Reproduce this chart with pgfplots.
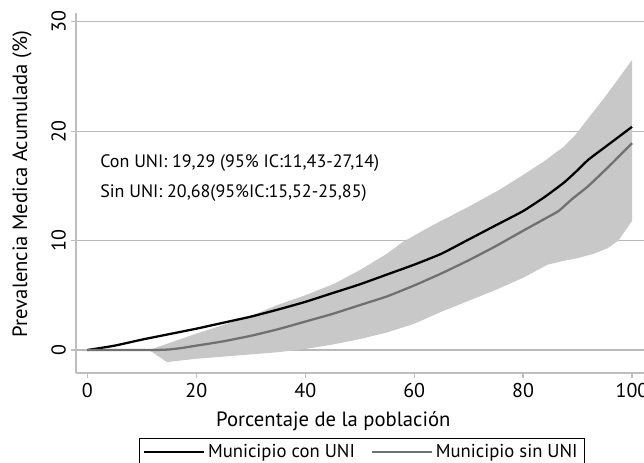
\documentclass[border=0pt]{standalone}
\usepackage{fontspec}
\setmainfont{PT Sans}
\usepackage{pgfplots}
\pgfplotsset{compat=1.18}
\usepgfplotslibrary{fillbetween}

\definecolor{bandgray}{RGB}{200,200,200}
\definecolor{linegray}{RGB}{112,112,112}
\definecolor{gridgray}{RGB}{185,185,185}
\definecolor{spinegray}{RGB}{190,190,190}

\begin{document}
\begin{tikzpicture}
\begin{axis}[
  scale only axis,
  width=426pt, height=270pt,
  xmin=-2.1, xmax=102.2,
  ymin=-2.1, ymax=30.8,
  axis x line*=bottom, axis y line*=left,
  axis line style={spinegray, line width=1.1pt},
  tick align=outside,
  major tick length=4pt,
  tick style={spinegray, line width=1pt},
  xtick={0,20,40,60,80,100},
  ytick={0,10,20,30},
  ymajorgrids,
  major grid style={gridgray, line width=0.8pt},
  /pgf/number format/assume math mode=true,
  ticklabel style={font=\fontsize{15}{17}\selectfont},
  yticklabel style={rotate=90, anchor=south},
  xlabel={Porcentaje de la población},
  ylabel={Prevalencia Medica Acumulada (\%)},
  label style={font=\fontsize{15.5}{18}\selectfont},
  xlabel style={at={(axis description cs:0.453,-0.133)}, anchor=center},
  ylabel style={at={(axis description cs:-0.095,0.525)}, anchor=center},
  legend columns=2,
  legend style={at={(axis description cs:0.503,-0.181)}, anchor=north,
    draw=black, line width=0.8pt, font=\fontsize{14}{16}\selectfont,
    /tikz/every even column/.append style={column sep=10pt}},
  legend image code/.code={\draw[#1] (0pt,0pt) -- (45pt,0pt);},
]
% banda de confianza
\addplot[name path=up, draw=none, forget plot] coordinates {
(11.3,0) (20,1.5) (30,3.1) (34.8,4.1) (40,5.0) (45.5,6.1) (50,7.3)
(55,8.8) (58,9.9) (63,11.3) (70,13.1) (75.5,14.6) (80,16.0) (84,17.3)
(87.5,18.6) (89.5,19.6) (92,21.2) (95,23.1) (100,26.5)};
\addplot[name path=lo, draw=none, forget plot] coordinates {
(11.3,0) (14.6,-1.1) (20,-0.8) (30,-0.4) (35,-0.2) (40,0.1) (45,0.5)
(50,1.0) (55,1.6) (60,2.4) (65,3.5) (70,4.5) (75,5.5) (80,6.6)
(84.5,7.8) (87,8.1) (90,8.4) (93,8.8) (95.5,9.3) (97.5,10.0) (100,11.8)};
\addplot[bandgray, forget plot] fill between[of=up and lo];
% Municipio con UNI
\addplot[black, line width=1.7pt, smooth, tension=0.3] coordinates {
(0,0) (5,0.4) (10,0.95) (15,1.45) (20,1.95) (25,2.5) (30,3.05) (35,3.7)
(40,4.4) (45,5.2) (50,6.0) (55,6.9) (60,7.8) (65,8.8) (70,10.1) (75,11.4)
(80,12.7) (84,14.0) (87.5,15.3) (89.5,16.2) (92,17.4) (96,18.9) (100,20.4)};
\addlegendentry{Municipio con UNI}
% Municipio sin UNI
\addplot[linegray, line width=1.7pt, smooth, tension=0.3] coordinates {
(0,0) (12,0) (15,0.05) (17.5,0.2) (20,0.4) (25,0.8) (30,1.3) (35,1.9) (40,2.6)
(45,3.3) (50,4.1) (55,4.9) (60,5.9) (65,7.0) (70,8.2) (75,9.5) (80,10.9)
(84,12.0) (86.5,12.7) (89,13.8) (92,15.0) (96,16.9) (100,18.9)};
\addlegendentry{Municipio sin UNI}
\node[anchor=west, font=\fontsize{13.5}{16}\selectfont] at (axis cs:1.5,17.1) {Con UNI: 19,29 (95\% IC:11,43-27,14)};
\node[anchor=west, font=\fontsize{13.5}{16}\selectfont] at (axis cs:1.5,14.3) {Sin UNI: 20,68(95\%IC:15,52-25,85)};
\end{axis}
\pgfresetboundingbox
\useasboundingbox (-57pt,-66.75pt) rectangle (426pt,279.75pt);
\end{tikzpicture}
\end{document}
